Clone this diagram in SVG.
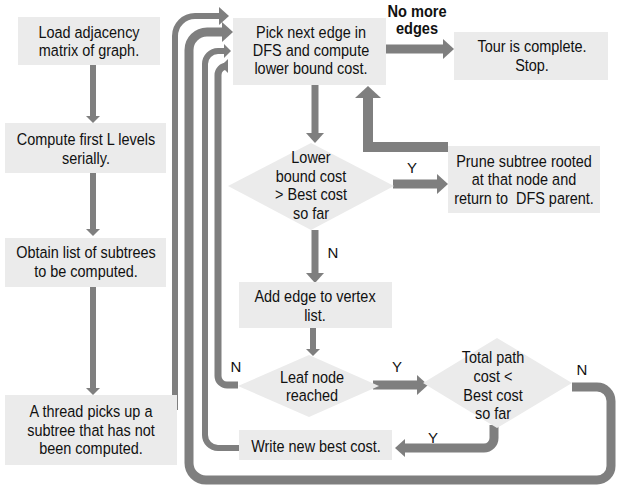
<svg xmlns="http://www.w3.org/2000/svg" width="618" height="486" viewBox="0 0 618 486">
<style>
.box{fill:#ebebeb;}
.t{font-family:"Liberation Sans",Arial,sans-serif;font-size:17px;fill:#111;text-anchor:middle;}
.lb{font-family:"Liberation Sans",Arial,sans-serif;font-size:15px;fill:#111;text-anchor:middle;}
.c{fill:none;stroke:#7f7f7f;stroke-linecap:butt;stroke-linejoin:miter;}
</style>
<defs>
<marker id="hs" markerUnits="userSpaceOnUse" markerWidth="7" markerHeight="14" refX="1" refY="7" orient="auto" overflow="visible"><path d="M0,0 L7,7 L0,14 z" fill="#7f7f7f"/></marker>
<marker id="hm" markerUnits="userSpaceOnUse" markerWidth="10" markerHeight="18" refX="1" refY="9" orient="auto" overflow="visible"><path d="M0,0 L10,9 L0,18 z" fill="#7f7f7f"/></marker>
<marker id="hl" markerUnits="userSpaceOnUse" markerWidth="11" markerHeight="20" refX="1" refY="10" orient="auto" overflow="visible"><path d="M0,0 L11,10 L0,20 z" fill="#7f7f7f"/></marker>
<marker id="hx" markerUnits="userSpaceOnUse" markerWidth="12" markerHeight="26" refX="1" refY="13" orient="auto" overflow="visible"><path d="M0,0 L12,13 L0,26 z" fill="#7f7f7f"/></marker>
</defs>

<g id="connectors">
<path class="c" stroke-width="6" d="M93,65 V117" marker-end="url(#hs)"/>
<path class="c" stroke-width="6" d="M93,173 V230" marker-end="url(#hs)"/>
<path class="c" stroke-width="6" d="M93,287 V389" marker-end="url(#hs)"/>
<path class="c" stroke-width="6" d="M175,410 V36 A20,20 0 0 1 195,16 H220" marker-end="url(#hm)"/>
<path class="c" stroke-width="9" d="M572,387 H597 A14,14 0 0 1 611,401 V466 A14,14 0 0 1 597,480 H206 A17,17 0 0 1 189,463 V50 A18,18 0 0 1 207,32 H223" marker-end="url(#hl)"/>
<path class="c" stroke-width="6" d="M239,448 H218 A13,13 0 0 1 205,435 V64 A13,13 0 0 1 218,51 H225" marker-end="url(#hs)"/>
<path class="c" stroke-width="7" d="M238,385 H227 A9,9 0 0 1 218,376 V75 A9,9 0 0 1 227,66 H227" marker-end="url(#hs)"/>
<path class="c" stroke-width="9" d="M386,49 H444" marker-end="url(#hl)"/>
<path class="c" stroke-width="7" d="M315,85 V134" marker-end="url(#hm)"/>
<path class="c" stroke-width="9" d="M393,184 H438" marker-end="url(#hl)"/>
<path class="c" stroke-width="10" d="M448,147 H368 V97" marker-end="url(#hx)"/>
<path class="c" stroke-width="7" d="M315,230 V274" marker-end="url(#hm)"/>
<path class="c" stroke-width="6" d="M313,328 V350" marker-end="url(#hs)"/>
<path class="c" stroke-width="9" d="M373,385 H418" marker-end="url(#hl)"/>
<path class="c" stroke-width="9" d="M494,425 V438 A10,10 0 0 1 484,448 H404" marker-end="url(#hm)"/>
</g>

<g id="n-load"><rect class="box" x="18" y="17" width="142" height="48"/>
<g transform="matrix(0.85,0,0,1,89,0)"><text class="t" x="0" y="38">Load adjacency</text><text class="t" x="0" y="56">matrix of graph.</text></g></g>

<g id="n-compute"><rect class="box" x="5" y="123" width="161" height="50"/>
<g transform="matrix(0.85,0,0,1,86,0)"><text class="t" x="0" y="145">Compute first L levels</text><text class="t" x="0" y="164">serially.</text></g></g>

<g id="n-obtain"><rect class="box" x="5" y="238" width="161" height="49"/>
<g transform="matrix(0.85,0,0,1,86,0)"><text class="t" x="0" y="258">Obtain list of subtrees</text><text class="t" x="0" y="277">to be computed.</text></g></g>

<g id="n-thread"><rect class="box" x="5" y="395" width="172" height="70"/>
<g transform="matrix(0.85,0,0,1,91,0)"><text class="t" x="0" y="417">A thread picks up a</text><text class="t" x="0" y="436">subtree that has not</text><text class="t" x="0" y="454">been computed.</text></g></g>

<g id="n-pick"><rect class="box" x="233" y="18" width="153" height="67"/>
<g transform="matrix(0.85,0,0,1,311,0)"><text class="t" x="0" y="38">Pick next edge in</text><text class="t" x="0" y="56">DFS and compute</text><text class="t" x="0" y="74">lower bound cost.</text></g></g>

<g id="n-tour"><rect class="box" x="454" y="32" width="154" height="48"/>
<g transform="matrix(0.85,0,0,1,532,0)"><text class="t" x="0" y="52">Tour is complete.</text><text class="t" x="0" y="71">Stop.</text></g></g>

<g id="n-lower"><polygon class="box" points="311,143 394,186 311,230 228,186"/>
<g transform="matrix(0.85,0,0,1,311,0)"><text class="t" x="0" y="163">Lower</text><text class="t" x="0" y="182">bound cost</text><text class="t" x="0" y="200">&gt; Best cost</text><text class="t" x="0" y="219">so far</text></g></g>

<g id="n-prune"><rect class="box" x="448" y="146" width="152" height="67"/>
<g transform="matrix(0.85,0,0,1,524,0)"><text class="t" x="0" y="167">Prune subtree rooted</text><text class="t" x="0" y="185">at that node and</text><text class="t" x="0" y="204" style="white-space:pre">return to  DFS parent.</text></g></g>

<g id="n-add"><rect class="box" x="239" y="282" width="153" height="46"/>
<g transform="matrix(0.85,0,0,1,315,0)"><text class="t" x="0" y="302">Add edge to vertex</text><text class="t" x="0" y="321">list.</text></g></g>

<g id="n-leaf"><polygon class="box" points="309,355 379,386 309,417 238,386"/>
<g transform="matrix(0.85,0,0,1,312,0)"><text class="t" x="0" y="383">Leaf node</text><text class="t" x="0" y="401">reached</text></g></g>

<g id="n-total"><polygon class="box" points="497,338 572,383 497,428 423,383"/>
<g transform="matrix(0.85,0,0,1,493,0)"><text class="t" x="0" y="363">Total path</text><text class="t" x="0" y="382">cost &lt;</text><text class="t" x="0" y="401">Best cost</text><text class="t" x="0" y="419">so far</text></g></g>

<g id="n-write"><rect class="box" x="239" y="430" width="153" height="30"/>
<g transform="matrix(0.85,0,0,1,316,0)"><text class="t" x="0" y="452">Write new best cost.</text></g></g>

<g id="labels">
<g transform="matrix(0.86,0,0,1,417,0)"><text class="t" x="0" y="17" font-size="16.5" font-weight="bold">No more</text>
<text class="t" x="0" y="34" font-size="16.5" font-weight="bold">edges</text></g>
<text class="lb" x="412" y="173">Y</text>
<text class="lb" x="333" y="258">N</text>
<text class="lb" x="236" y="372">N</text>
<text class="lb" x="397" y="372">Y</text>
<text class="lb" x="582" y="375">N</text>
<text class="lb" x="433" y="443">Y</text>
</g>
</svg>
